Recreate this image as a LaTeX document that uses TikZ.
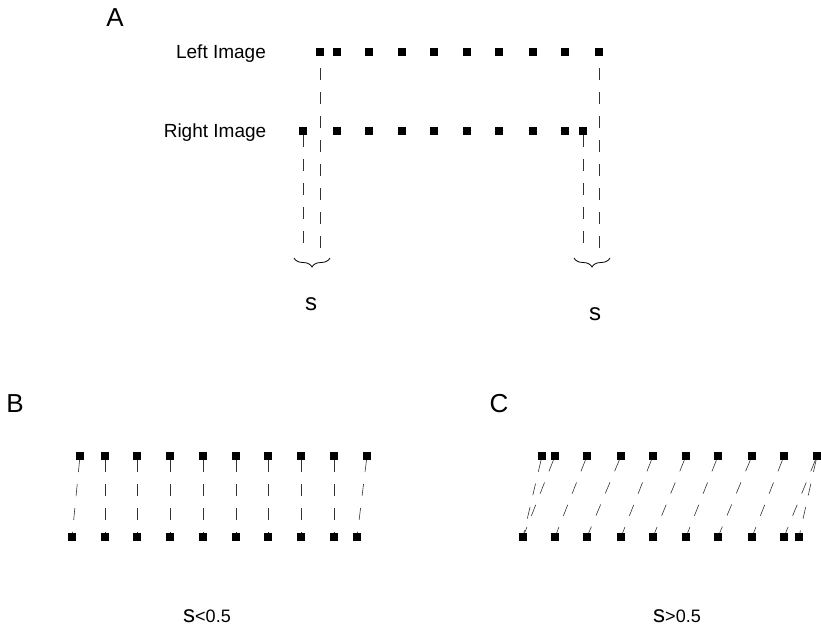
\documentclass[tikz,border=0pt]{standalone}
\usepackage{fontspec}
\setmainfont{Liberation Sans}
\usetikzlibrary{decorations.pathreplacing,positioning}

\begin{document}
\begin{tikzpicture}[x=1pt, y=-1pt,
  pix/.style={fill=black, inner sep=0pt, minimum size=8pt},
  match/.style={dash pattern=on 12pt off 12pt, line width=0.6pt, black!80},
  panel/.style={anchor=base, font=\fontsize{26}{30}\selectfont},
  lbl/.style={anchor=base, font=\fontsize{19}{22}\selectfont},
  slbl/.style={anchor=base, font=\fontsize{24}{28}\selectfont},
  brc/.style={decorate, decoration={brace, amplitude=9pt}, line width=0.8pt}
]
  \useasboundingbox (0,0) rectangle (821,629);

  % --- A: left and right image rows ---
  \node[panel] (tagA) at (115,27) {A};
  \node[lbl] (limg) at (221,58) {Left Image};
  \node[lbl] (rimg) at (215,137) {Right Image};
  \foreach \x [count=\i] in {320,337,369,402,434,467,499,533,565,599}
    \node[pix] (L\i) at (\x,52) {};
  \foreach \x [count=\i] in {303,337,369,402,434,467,499,533,565,583}
    \node[pix] (R\i) at (\x,131) {};
  \coordinate (la) at (320,255);
  \coordinate (ra) at (303,255);
  \coordinate (lb) at (599,255);
  \coordinate (rb) at (583,255);
  \draw[match, dash phase=12pt] (L1.south) -- (la);
  \draw[match] (R1.south) -- (ra);
  \draw[match, dash phase=12pt] (L10.south) -- (lb);
  \draw[match] (R10.south) -- (rb);
  \draw[brc] (330,258) -- (294,258);
  \draw[brc] (610,258) -- (574,258);
  \node[slbl] (sa) at (311,310) {s};
  \node[slbl] (sb) at (595,320) {s};

  % --- B: s<0.5 ---
  \node[panel] (tagB) at (15,412) {B};
  \foreach \x [count=\i] in {80,105,137,170,203,236,268,301,334,367}
    \node[pix] (bt\i) at (\x,456) {};
  \foreach \x [count=\i] in {72,105,137,170,203,236,268,301,334,357}
    \node[pix] (bb\i) at (\x,537) {};
  \foreach \i in {1,...,10}
    \draw[match] (bt\i) -- (bb\i);
  \node[anchor=base] (capB) at (207,622)
    {\fontsize{24}{28}\selectfont s\fontsize{18}{22}\selectfont<0.5};

  % --- C: s>0.5 ---
  \node[panel] (tagC) at (499,412) {C};
  \foreach \x [count=\i] in {542,555,587,621,653,686,718,752,784,817}
    \node[pix] (ct\i) at (\x,456) {};
  \foreach \x [count=\i] in {523,555,587,621,653,686,718,752,784,799}
    \node[pix] (cb\i) at (\x,537) {};
  \draw[match] (ct1) -- (cb1);
  \foreach \i [evaluate=\i as \j using int(\i-1)] in {2,...,10}
    \draw[match] (ct\i) -- (cb\j);
  \draw[match] (ct10) -- (cb10);
  \node[anchor=base] (capC) at (677,622)
    {\fontsize{24}{28}\selectfont s\fontsize{18}{22}\selectfont>0.5};
\end{tikzpicture}
\end{document}
